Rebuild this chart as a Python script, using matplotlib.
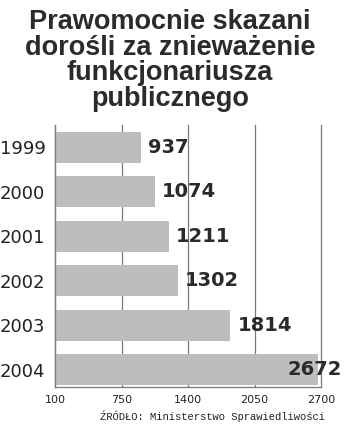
import matplotlib.pyplot as plt
import numpy as np

years = ['1999', '2000', '2001', '2002', '2003', '2004']
counts = [937, 1074, 1211, 1302, 1814, 2672]
xticks = [100, 750, 1400, 2050, 2700]

title = 'Prawomocnie skazani\ndorośli za znieważenie\nfunkcjonariusza\npublicznego'
source = 'ŹRÓDŁO: Ministerstwo Sprawiedliwości'

W, H = 350, 424
fig = plt.figure(figsize=(W / 100, H / 100), dpi=100)
# axes box in pixels: left 55, right 321, top 125, bottom 387
ax = fig.add_axes([55 / W, 1 - 387 / H, (321 - 55) / W, (387 - 125) / H])

y = np.arange(len(years))
ax.barh(y, np.array(counts) - xticks[0], left=xticks[0], height=0.7,
        color='#bdbdbd', zorder=1)

ax.set_xlim(xticks[0], xticks[-1])
ax.set_ylim(len(years) - 1 + 0.39, -0.5)
ax.set_xticks(xticks)
ax.set_xticklabels([str(t) for t in xticks], fontsize=8, color='#222222')
ax.tick_params(axis='x', length=0, pad=6)
ax.set_yticks(y)
ax.set_yticklabels(years, fontsize=13, color='#222222')
for lbl in ax.get_yticklabels():
    lbl.set_horizontalalignment('left')
    lbl.set_x(-55 / 266)
ax.tick_params(axis='y', length=0, pad=0)

ax.grid(axis='x', color='#7a7a7a', linewidth=0.9, zorder=0)
for gl in ax.get_xgridlines():
    gl.set_clip_on(False)
ax.set_axisbelow(True)
for side in ['top', 'right']:
    ax.spines[side].set_visible(False)
for side in ['left', 'bottom']:
    ax.spines[side].set_color('#7a7a7a')
    ax.spines[side].set_linewidth(0.9)

for yi, v in zip(y, counts):
    if v > 2400:
        ax.annotate(str(v), (xticks[-1], yi), xytext=(21, 0), textcoords='offset pixels',
                    ha='right', va='center', fontsize=14, fontweight='bold', color='#2a2a2a')
    else:
        ax.annotate(str(v), (v, yi), xytext=(7, 0), textcoords='offset pixels',
                    ha='left', va='center', fontsize=14, fontweight='bold', color='#2a2a2a')

fig.text(170 / W, 1 - 9 / H, title, ha='center', va='top', fontsize=19.5,
         fontweight='bold', family='Liberation Sans', color='#2b2b2b', linespacing=0.98)
fig.text(325 / W, 1 - 416 / H, source, ha='right', va='center', fontsize=7.6,
         family='Liberation Mono', color='#222222')

plt.savefig('out.png', dpi=100)
